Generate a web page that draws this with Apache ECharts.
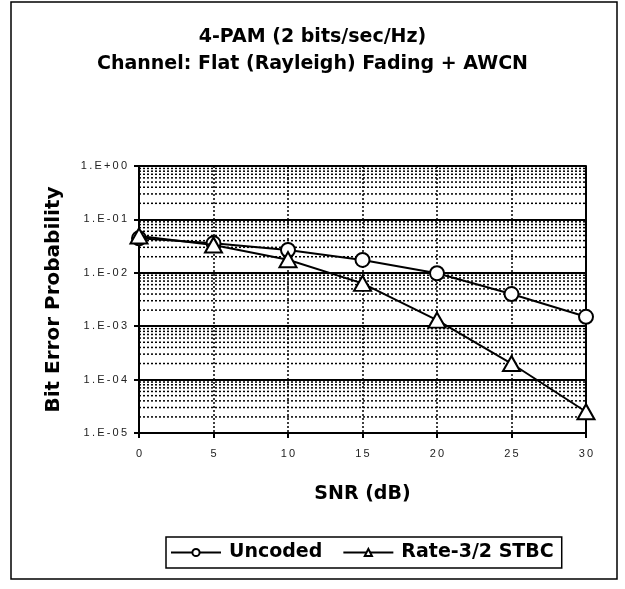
<!DOCTYPE html>
<html>
<head>
<meta charset="utf-8">
<script src="https://cdn.jsdelivr.net/npm/echarts@6/dist/echarts.min.js"></script>
<style>
  html, body { margin: 0; padding: 0; background: #fff; }
  #chart { width: 625px; height: 589px; }
</style>
</head>
<body>
<div id="chart"></div>
<script>
// SNR in dB
const snr = [0, 5, 10, 15, 20, 25, 30]
// bit error probability
const uncoded = [0.0443, 0.0357, 0.0267, 0.0174, 0.0098, 0.0040, 0.0015]
const stbc = [0.049, 0.0332, 0.0176, 0.00635, 0.0013, 0.0002, 0.000025]
const yTickLabels = ['1.E-05', '1.E-04', '1.E-03', '1.E-02', '1.E-01', '1.E+00']
const seriesNames = ['Uncoded', 'Rate-3/2 STBC']

const FONT = '"DejaVu Sans", sans-serif'
const TICK_FONT = '"Liberation Sans", Arial, sans-serif'

// spread characters a bit, like the old excel rendering
const spaced = (s) => String(s).split('').join('\u2009')

const pairs = (ys) => snr.map((x, i) => [x, ys[i]])

// dotted minor grid lines at 2..9 x 10^k (log axis has no such minor split lines)
const minorSeries = []
for (let e = -5; e < 0; e++) {
  for (let m = 2; m <= 9; m++) {
    const v = m * Math.pow(10, e)
    minorSeries.push({
      type: 'line',
      data: [[snr[0], v], [snr[snr.length - 1], v]],
      symbol: 'none',
      silent: true,
      z: 1,
      lineStyle: { color: '#000', width: 1.5, type: [2, 2] }
    })
  }
}

const chart = echarts.init(document.getElementById('chart'))

chart.setOption({
  backgroundColor: '#fff',
  animation: false,
  title: {
    text: '4-PAM (2 bits/sec/Hz)\nChannel: Flat (Rayleigh) Fading + AWCN',
    left: 'center',
    top: 19,
    textStyle: { fontFamily: FONT, fontWeight: 'bold', fontSize: 19, lineHeight: 27, color: '#000' }
  },
  graphic: [{
    type: 'rect',
    shape: { x: 11, y: 2, width: 606, height: 577 },
    style: { fill: 'none', stroke: '#000', lineWidth: 1.5 },
    silent: true
  }],
  legend: {
    top: 537,
    left: 166,
    data: seriesNames,
    itemWidth: 50,
    itemHeight: 9,
    itemGap: 20,
    padding: [6, 8, 6, 4],
    borderColor: '#000',
    borderWidth: 1.5,
    textStyle: { fontFamily: FONT, fontWeight: 'bold', fontSize: 19, color: '#000', padding: [0, 0, 0, 3] }
  },
  grid: { left: 139, right: 39, top: 166, bottom: 156 },
  xAxis: {
    type: 'value',
    min: 0,
    max: 30,
    interval: 5,
    name: 'SNR (dB)',
    nameLocation: 'middle',
    nameGap: 52,
    nameTextStyle: { fontFamily: FONT, fontWeight: 'bold', fontSize: 19, color: '#000' },
    axisLine: { lineStyle: { color: '#000', width: 2 } },
    axisTick: { length: 5, lineStyle: { color: '#000', width: 2 } },
    axisLabel: {
      margin: 15,
      fontFamily: TICK_FONT,
      fontSize: 11,
      color: '#222',
      formatter: (v) => spaced(v)
    },
    splitLine: { show: true, lineStyle: { color: '#000', width: 1.5, type: [2, 2] } }
  },
  yAxis: [{
    type: 'log',
    logBase: 10,
    min: 1e-5,
    max: 1,
    name: 'Bit Error Probability',
    nameLocation: 'middle',
    nameGap: 75,
    nameTextStyle: { fontFamily: FONT, fontWeight: 'bold', fontSize: 20, color: '#000' },
    axisLine: { show: true, lineStyle: { color: '#000', width: 2 } },
    axisTick: { show: true, length: 5, lineStyle: { color: '#000', width: 2 } },
    axisLabel: {
      margin: 12,
      fontFamily: TICK_FONT,
      fontSize: 11,
      color: '#222',
      formatter: (v) => spaced(yTickLabels[Math.round(Math.log10(v)) + 5])
    },
    splitLine: { show: true, lineStyle: { color: '#000', width: 2 } }
  }, {
    // right border of the plot
    type: 'log',
    logBase: 10,
    min: 1e-5,
    max: 1,
    position: 'right',
    axisLine: { show: true, lineStyle: { color: '#000', width: 2 } },
    axisTick: { show: false },
    axisLabel: { show: false },
    splitLine: { show: false }
  }],
  series: minorSeries.concat([
    {
      type: 'line',
      name: seriesNames[0],
      data: pairs(uncoded),
      z: 3,
      symbol: 'circle',
      symbolSize: 14,
      lineStyle: { color: '#000', width: 2 },
      itemStyle: { color: '#fff', borderColor: '#000', borderWidth: 2 }
    },
    {
      type: 'line',
      name: seriesNames[1],
      data: pairs(stbc),
      z: 4,
      symbol: 'triangle',
      symbolSize: [17, 15],
      lineStyle: { color: '#000', width: 2 },
      itemStyle: { color: '#fff', borderColor: '#000', borderWidth: 2 }
    }
  ])
})
</script>
</body>
</html>
